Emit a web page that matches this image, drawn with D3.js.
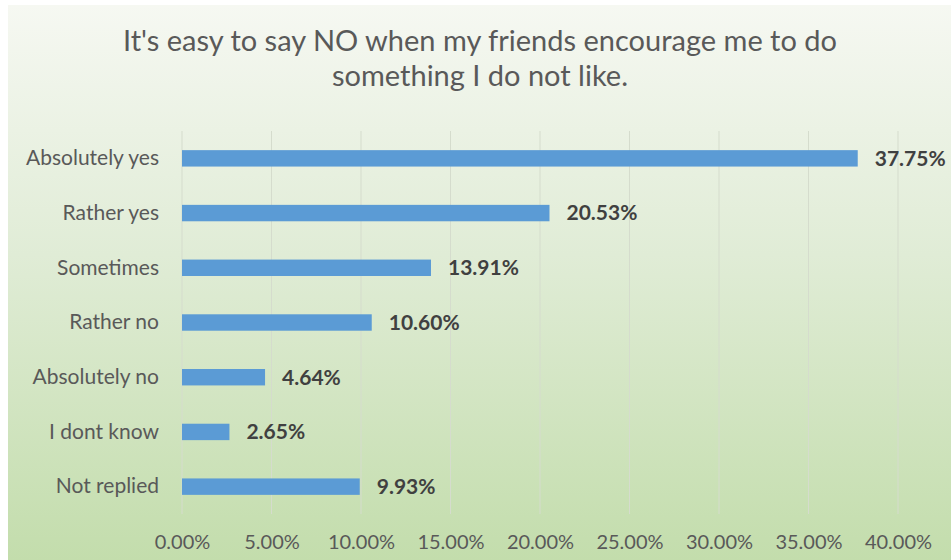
<!DOCTYPE html>
<html>
<head>
<meta charset="utf-8">
<script src="https://cdn.jsdelivr.net/npm/d3@7"></script>
<style>
  html, body { margin: 0; padding: 0; background: #ffffff; }
  svg { display: block; }
</style>
</head>
<body>
<svg id="chart" width="951" height="560"></svg>
<script>
const titleLines = ["It's easy to say NO when my friends encourage me to do", "something I do not like."];
const categories = ["Absolutely yes", "Rather yes", "Sometimes", "Rather no", "Absolutely no", "I dont know", "Not replied"];
const values = [37.75, 20.53, 13.91, 10.60, 4.64, 2.65, 9.93];
const tickValues = [0, 5, 10, 15, 20, 25, 30, 35, 40];

const W = 951, H = 560;
const svg = d3.select("#chart");
const font = "Lato, 'Open Sans', sans-serif";

const defs = svg.append("defs");
const grad = defs.append("linearGradient").attr("id", "bg").attr("x1", 0).attr("y1", 0).attr("x2", 0).attr("y2", 1);
grad.append("stop").attr("offset", "0%").attr("stop-color", "#f6f8f2");
grad.append("stop").attr("offset", "45%").attr("stop-color", "#e0ecd6");
grad.append("stop").attr("offset", "100%").attr("stop-color", "#c3ddac");

svg.append("rect").attr("x", 8).attr("y", 5).attr("width", W - 8).attr("height", H - 5).attr("fill", "url(#bg)");

const margin = { left: 182, right: 53, top: 131, bottom: 46 };
const x = d3.scaleLinear().domain([0, 40]).range([margin.left, W - margin.right]);
const y = d3.scaleBand().domain(categories).range([margin.top, H - margin.bottom]).paddingInner(0.7).paddingOuter(0.35);

// gridlines
svg.append("g").selectAll("line").data(tickValues).join("line")
  .attr("x1", d => x(d)).attr("x2", d => x(d))
  .attr("y1", margin.top).attr("y2", H - margin.bottom)
  .attr("stroke", "#d5dccd").attr("stroke-width", 1);

// title
svg.append("g").selectAll("text").data(titleLines).join("text")
  .attr("x", 480).attr("y", (d, i) => 51 + i * 35)
  .attr("text-anchor", "middle")
  .attr("font-family", font).attr("font-size", 29)
  .attr("fill", "#595959")
  .text(d => d);

// bars
svg.append("g").selectAll("rect").data(values).join("rect")
  .attr("x", x(0))
  .attr("y", (d, i) => y(categories[i]))
  .attr("width", d => x(d) - x(0))
  .attr("height", y.bandwidth())
  .attr("fill", "#5b9bd5");

// value labels
svg.append("g").selectAll("text").data(values).join("text")
  .attr("x", d => x(d) + 17)
  .attr("y", (d, i) => y(categories[i]) + y.bandwidth() / 2)
  .attr("dy", "0.35em")
  .attr("font-family", font).attr("font-size", 21).attr("font-weight", "bold")
  .attr("fill", "#404040")
  .text(d => d.toFixed(2) + "%");

// y axis labels
const yAxis = d3.axisLeft(y).tickSize(0).tickPadding(23);
const gy = svg.append("g").attr("transform", `translate(${margin.left},0)`).call(yAxis);
gy.select(".domain").remove();
gy.selectAll("text").attr("font-family", font).attr("font-size", 21).attr("fill", "#595959");

// x axis labels
const xAxis = d3.axisBottom(x).tickValues(tickValues).tickSize(0).tickPadding(21).tickFormat(d => d.toFixed(2) + "%");
const gx = svg.append("g").attr("transform", `translate(0,${H - margin.bottom})`).call(xAxis);
gx.select(".domain").remove();
gx.selectAll("text").attr("font-family", font).attr("font-size", 20).attr("fill", "#595959");
</script>
</body>
</html>
